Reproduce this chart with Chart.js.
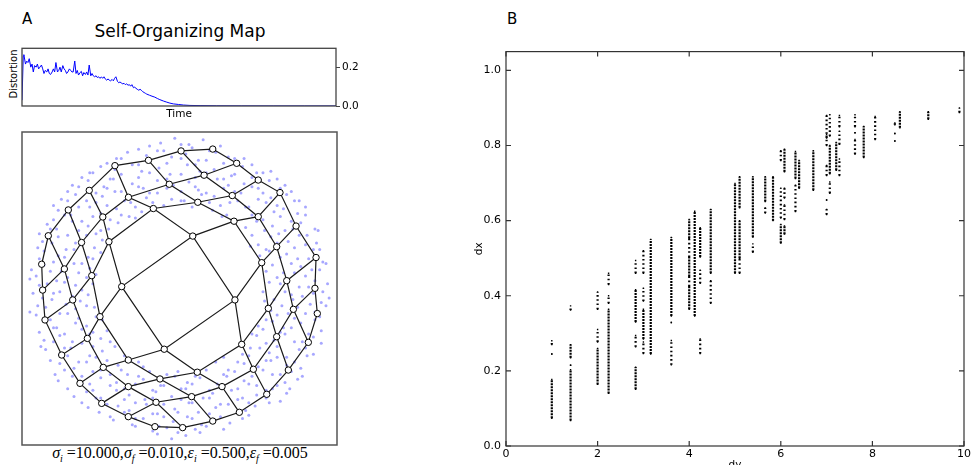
<!DOCTYPE html>
<html>
<head>
<meta charset="utf-8">
<script src="https://cdn.jsdelivr.net/npm/chart.js@4.4.0/dist/chart.umd.min.js"></script>
<style>
  body { margin: 0; width: 973px; height: 465px; overflow: hidden; position: relative; background: #fff; font-family: "DejaVu Sans", sans-serif; color: #000; }
  canvas { position: absolute; }
  .txt { position: absolute; white-space: nowrap; }
  .cap sub { font-size: 10px; }
</style>
</head>
<body>
<div class="txt" style="left:22px;top:12px;font-size:15px;line-height:15px;">A</div>
<div class="txt" style="left:507px;top:12px;font-size:15px;line-height:15px;">B</div>
<div class="txt" style="left:80px;width:200px;text-align:center;top:23px;font-size:17px;line-height:17px;">Self-Organizing Map</div>
<div class="txt" style="left:-26px;width:80px;text-align:center;top:68px;height:12px;font-size:10px;line-height:12px;transform:rotate(-90deg);">Distortion</div>
<div class="txt cap" style="left:20px;width:320px;text-align:center;top:445px;font-family:'Liberation Serif',serif;font-size:16px;line-height:16px;"><i>σ</i><sub><i>i</i></sub> =10.000,<i>σ</i><sub><i>f</i></sub> =0.010,<i>ε</i><sub><i>i</i></sub> =0.500,<i>ε</i><sub><i>f</i></sub> =0.005</div>

<canvas id="distChart" width="350" height="85" style="left:20px;top:40px;"></canvas>
<canvas id="somChart" width="335" height="323" style="left:12px;top:127px;"></canvas>
<canvas id="distanceChart" width="508" height="436" style="left:465px;top:40px;"></canvas>

<script>
// ---- panel A, distortion over time ----
const distTime = [0,0.4,0.6,1.1,1.5,1.9,2.3,2.8,3.2,3.6,
  4.0,4.5,4.9,5.3,5.7,6.2,6.6,7.0,7.4,7.9,
  8.3,8.7,9.1,9.6,10.0,10.4,10.8,11.3,11.7,12.1,
  12.5,13.0,13.4,13.8,14.2,14.6,15.1,15.5,15.9,16.3,
  16.8,17.2,17.6,18.0,18.5,18.9,19.3,19.7,20.2,20.6,
  21.0,21.4,21.9,22.3,22.7,23.1,23.6,24.0,24.4,24.8,
  25.3,25.7,26.1,26.5,27.0,27.4,27.8,28.2,28.7,29.1,
  29.5,29.9,30.4,30.8,31.2,31.6,32.1,32.5,32.9,33.3,
  33.8,34.2,34.6,35.0,35.5,35.9,36.3,36.7,37.2,37.6,
  38.0,38.4,38.9,39.3,39.7,40.6,41.4,42.3,43.1,43.9,
  45.0,46.1,47.1,48.2,49.8,51.4,53.5,56.7,62.0,70,
  80,90,100];
const distValue = [0.030,0.259,0.267,0.218,0.233,0.226,0.246,0.202,0.218,0.177,
  0.210,0.202,0.218,0.193,0.202,0.213,0.193,0.169,0.185,0.177,
  0.193,0.169,0.164,0.177,0.193,0.177,0.226,0.177,0.185,0.202,
  0.177,0.210,0.193,0.185,0.169,0.177,0.193,0.185,0.177,0.177,
  0.234,0.169,0.185,0.161,0.174,0.180,0.157,0.174,0.164,0.177,
  0.161,0.213,0.157,0.169,0.157,0.152,0.157,0.148,0.152,0.144,
  0.151,0.144,0.152,0.141,0.134,0.141,0.134,0.131,0.138,0.131,
  0.144,0.152,0.128,0.121,0.125,0.120,0.115,0.118,0.111,0.115,
  0.108,0.111,0.103,0.111,0.095,0.098,0.092,0.087,0.082,0.087,
  0.082,0.075,0.070,0.066,0.062,0.056,0.051,0.046,0.039,0.033,
  0.026,0.020,0.015,0.011,0.008,0.005,0.003,0.002,0.001,0.0005,
  0.0003,0.0002,0.0001];
const distTicks = [0, 0.2];

// ---- panel A, 8x8 map nodes (rows of the grid) ----
const somX = [
  [0.211, 0.363, 0.500, 0.638, 0.740, 0.867, 0.860, 0.875],
  [0.010, 0.156, 0.335, 0.500, 0.617, 0.681, 0.723, 0.818],
  [-0.197, -0.065, 0.116, 0.346, 0.522, 0.564, 0.617, 0.691],
  [-0.410, -0.324, -0.166, 0.084, 0.352, 0.395, 0.469, 0.554],
  [-0.573, -0.487, -0.448, -0.367, -0.097, 0.113, 0.270, 0.380],
  [-0.706, -0.622, -0.557, -0.505, -0.325, -0.124, 0.077, 0.211],
  [-0.833, -0.731, -0.678, -0.585, -0.484, -0.325, -0.149, 0.020],
  [-0.875, -0.869, -0.854, -0.748, -0.632, -0.494, -0.325, -0.156]
];
const somY = [
  [0.891, 0.800, 0.693, 0.613, 0.399, 0.198, 0.001, -0.160],
  [0.879, 0.724, 0.594, 0.459, 0.267, 0.050, -0.133, -0.344],
  [0.819, 0.666, 0.551, 0.430, 0.165, -0.127, -0.308, -0.521],
  [0.785, 0.583, 0.511, 0.335, -0.073, -0.357, -0.516, -0.676],
  [0.627, 0.457, 0.299, 0.012, -0.388, -0.535, -0.627, -0.791],
  [0.502, 0.294, 0.082, -0.180, -0.457, -0.578, -0.691, -0.847],
  [0.337, 0.125, -0.073, -0.319, -0.504, -0.627, -0.727, -0.889],
  [0.155, -0.010, -0.201, -0.425, -0.606, -0.734, -0.819, -0.883]
];

// input samples (ring)
const samplePts = [
  [-0.12,0.93],[-0.03,0.96],[0.06,0.92],[0.15,0.95],
  [-0.40,0.83],[-0.33,0.87],[-0.21,0.85],[-0.14,0.88],[-0.05,0.84],[0.04,0.86],[0.12,0.82],[0.23,0.87],[0.31,0.84],[0.41,0.83],
  [-0.57,0.74],[-0.50,0.78],[-0.41,0.76],[-0.30,0.79],[-0.24,0.75],[-0.13,0.77],[-0.06,0.73],[0.05,0.79],[0.13,0.75],[0.22,0.76],[0.33,0.72],[0.40,0.78],[0.49,0.74],[0.58,0.75],
  [-0.68,0.66],[-0.58,0.69],[-0.48,0.65],[-0.42,0.70],[-0.30,0.67],[-0.23,0.64],[-0.14,0.69],[-0.04,0.66],[0.06,0.68],[0.12,0.63],[0.24,0.70],[0.31,0.66],[0.41,0.67],[0.50,0.64],[0.57,0.69],[0.67,0.66],
  [-0.75,0.57],[-0.66,0.60],[-0.59,0.56],[-0.49,0.59],[-0.41,0.62],[-0.31,0.55],[-0.21,0.58],[-0.14,0.61],[-0.05,0.57],[0.03,0.56],[0.14,0.60],[0.22,0.59],[0.32,0.55],[0.39,0.61],[0.50,0.57],[0.58,0.58],[0.68,0.60],[0.76,0.56],
  [-0.77,0.50],[-0.69,0.47],[-0.57,0.52],[-0.50,0.48],[-0.40,0.51],[-0.32,0.46],[-0.24,0.49],[0.21,0.50],[0.30,0.47],[0.42,0.52],[0.49,0.46],[0.60,0.49],[0.66,0.51],[0.75,0.48],
  [-0.84,0.41],[-0.78,0.38],[-0.68,0.43],[-0.58,0.40],[-0.50,0.37],[-0.39,0.42],[0.42,0.39],[0.49,0.43],[0.59,0.40],[0.67,0.37],[0.77,0.42],[0.86,0.38],
  [-0.87,0.30],[-0.77,0.33],[-0.66,0.29],[-0.59,0.34],[-0.49,0.31],[0.50,0.28],[0.58,0.33],[0.69,0.30],[0.76,0.34],[0.87,0.29],
  [-0.86,0.24],[-0.77,0.21],[-0.67,0.25],[-0.58,0.20],[-0.50,0.23],[0.51,0.21],[0.57,0.24],[0.68,0.22],[0.75,0.19],[0.85,0.25],
  [-0.94,0.12],[-0.86,0.15],[-0.75,0.11],[-0.67,0.16],[-0.57,0.13],[0.59,0.15],[0.66,0.10],[0.77,0.14],[0.84,0.12],[0.93,0.16],
  [-0.95,0.06],[-0.84,0.03],[-0.78,0.05],[-0.66,0.02],[-0.59,0.07],[0.57,0.04],[0.68,0.06],[0.76,0.01],[0.86,0.05],[0.94,0.03],
  [-0.93,-0.03],[-0.87,-0.06],[-0.76,-0.02],[-0.68,-0.05],[-0.58,-0.04],[0.60,-0.07],[0.67,-0.02],[0.78,-0.05],[0.85,-0.03],[0.95,-0.06],
  [-0.95,-0.15],[-0.85,-0.12],[-0.76,-0.16],[-0.66,-0.13],[-0.59,-0.11],[0.58,-0.14],[0.69,-0.16],[0.75,-0.12],[0.86,-0.15],[0.93,-0.11],
  [-0.85,-0.21],[-0.78,-0.25],[-0.66,-0.22],[-0.59,-0.24],[-0.49,-0.20],[0.50,-0.24],[0.59,-0.21],[0.66,-0.25],[0.77,-0.22],[0.86,-0.20],
  [-0.86,-0.33],[-0.76,-0.30],[-0.68,-0.34],[-0.57,-0.29],[-0.50,-0.32],[0.49,-0.30],[0.60,-0.33],[0.67,-0.29],[0.78,-0.34],[0.85,-0.31],
  [-0.85,-0.39],[-0.76,-0.42],[-0.69,-0.38],[-0.57,-0.43],[-0.49,-0.40],[-0.41,-0.37],[0.40,-0.42],[0.51,-0.38],[0.57,-0.41],[0.68,-0.44],[0.76,-0.39],[0.85,-0.42],
  [-0.76,-0.48],[-0.67,-0.51],[-0.59,-0.47],[-0.50,-0.52],[-0.39,-0.49],[-0.31,-0.46],[-0.23,-0.50],[0.23,-0.47],[0.31,-0.52],[0.41,-0.48],[0.50,-0.50],[0.58,-0.46],[0.68,-0.49],[0.77,-0.51],
  [-0.77,-0.59],[-0.68,-0.56],[-0.57,-0.61],[-0.50,-0.57],[-0.40,-0.60],[-0.33,-0.55],[-0.23,-0.58],[-0.12,-0.62],[-0.03,-0.56],[0.05,-0.60],[0.13,-0.57],[0.24,-0.61],[0.30,-0.56],[0.41,-0.59],[0.49,-0.62],[0.59,-0.55],[0.67,-0.60],[0.75,-0.58],
  [-0.67,-0.69],[-0.59,-0.66],[-0.50,-0.70],[-0.40,-0.65],[-0.32,-0.68],[-0.22,-0.71],[-0.15,-0.66],[-0.05,-0.69],[0.04,-0.64],[0.15,-0.70],[0.21,-0.67],[0.33,-0.65],[0.40,-0.70],[0.49,-0.68],[0.59,-0.64],[0.68,-0.67],
  [-0.58,-0.76],[-0.51,-0.79],[-0.39,-0.75],[-0.32,-0.78],[-0.21,-0.74],[-0.14,-0.80],[-0.03,-0.77],[0.06,-0.73],[0.12,-0.79],[0.23,-0.76],[0.31,-0.74],[0.42,-0.78],[0.48,-0.75],[0.57,-0.73],
  [-0.42,-0.84],[-0.30,-0.87],[-0.23,-0.83],[-0.13,-0.88],[-0.04,-0.85],[0.05,-0.82],[0.14,-0.87],[0.22,-0.84],[0.32,-0.86],[0.40,-0.83],
  [-0.14,-0.93],[-0.05,-0.96],[0.04,-0.94],[0.13,-0.92],
  // second pass over the cloud
  [-0.89,0.02],[-0.80,-0.03],[-0.73,0.04],[-0.62,-0.01],[-0.55,0.03],[0.53,-0.02],[0.64,0.03],[0.71,-0.04],[0.82,0.01],[0.91,-0.02],
  [-0.91,0.08],[-0.82,0.11],[-0.71,0.07],[-0.64,0.10],[-0.53,0.09],[0.55,0.11],[0.62,0.07],[0.73,0.10],[0.80,0.08],[0.89,0.12],
  [-0.90,-0.11],[-0.81,-0.07],[-0.72,-0.10],[-0.63,-0.08],[-0.54,-0.12],[0.54,-0.08],[0.65,-0.11],[0.72,-0.07],[0.83,-0.10],[0.90,-0.09],
  [-0.89,0.19],[-0.80,0.17],[-0.73,0.20],[-0.62,0.16],[-0.55,0.19],[0.53,0.17],[0.64,0.20],[0.71,0.16],[0.82,0.19],[0.91,0.17],
  [-0.91,-0.17],[-0.82,-0.20],[-0.71,-0.16],[-0.64,-0.19],[-0.53,-0.18],[0.55,-0.20],[0.62,-0.17],[0.73,-0.19],[0.80,-0.16],[0.89,-0.18],
  [-0.90,0.26],[-0.81,0.29],[-0.72,0.25],[-0.63,0.28],[-0.54,0.26],[-0.46,0.29],[0.45,0.27],[0.55,0.25],[0.62,0.29],[0.73,0.26],[0.80,0.28],[0.89,0.25],
  [-0.89,-0.28],[-0.80,-0.25],[-0.73,-0.29],[-0.62,-0.26],[-0.55,-0.28],[-0.46,-0.27],[0.46,-0.29],[0.53,-0.26],[0.64,-0.28],[0.71,-0.25],[0.82,-0.29],[0.90,-0.27],
  [-0.89,0.35],[-0.82,0.38],[-0.71,0.34],[-0.64,0.37],[-0.53,0.35],[-0.45,0.38],[0.46,0.34],[0.54,0.37],[0.63,0.35],[0.72,0.38],[0.81,0.34],[0.88,0.37],
  [-0.88,-0.37],[-0.80,-0.34],[-0.73,-0.38],[-0.62,-0.35],[-0.55,-0.37],[-0.44,-0.34],[0.45,-0.38],[0.55,-0.35],[0.62,-0.37],[0.73,-0.34],[0.80,-0.38],[0.90,-0.35],
  [-0.80,0.44],[-0.73,0.47],[-0.62,0.43],[-0.55,0.46],[-0.44,0.44],[-0.37,0.47],[-0.28,0.45],[0.27,0.46],[0.35,0.43],[0.46,0.47],[0.53,0.44],[0.64,0.46],[0.71,0.43],[0.80,0.47],
  [-0.82,-0.46],[-0.71,-0.43],[-0.64,-0.47],[-0.53,-0.44],[-0.46,-0.46],[-0.35,-0.43],[-0.26,-0.47],[0.28,-0.44],[0.37,-0.47],[0.44,-0.43],[0.55,-0.46],[0.62,-0.44],[0.73,-0.47],[0.81,-0.43],
  [-0.80,0.53],[-0.71,0.56],[-0.64,0.52],[-0.53,0.55],[-0.46,0.53],[-0.35,0.56],[-0.28,0.52],[-0.17,0.55],[-0.10,0.53],[0.01,0.56],[0.08,0.52],[0.19,0.55],[0.26,0.53],[0.37,0.56],[0.44,0.52],[0.55,0.55],[0.62,0.53],[0.73,0.56],[0.80,0.52],
  [-0.79,-0.55],[-0.73,-0.52],[-0.62,-0.56],[-0.55,-0.53],[-0.44,-0.55],[-0.37,-0.52],[-0.26,-0.56],[-0.19,-0.53],[-0.08,-0.55],[-0.01,-0.53],[0.10,-0.56],[0.17,-0.52],[0.28,-0.55],[0.35,-0.53],[0.46,-0.56],[0.53,-0.52],[0.64,-0.55],[0.71,-0.53],[0.78,-0.56],
  [-0.71,0.62],[-0.64,0.65],[-0.53,0.61],[-0.46,0.64],[-0.37,0.62],[-0.26,0.65],[-0.19,0.61],[-0.08,0.64],[0.01,0.62],[0.10,0.65],[0.17,0.61],[0.28,0.64],[0.35,0.62],[0.46,0.65],[0.53,0.61],[0.64,0.64],[0.71,0.62],
  [-0.71,-0.64],[-0.62,-0.61],[-0.55,-0.65],[-0.44,-0.62],[-0.35,-0.64],[-0.28,-0.61],[-0.17,-0.65],[-0.10,-0.62],[0.01,-0.64],[0.08,-0.61],[0.19,-0.65],[0.26,-0.62],[0.37,-0.64],[0.44,-0.61],[0.55,-0.65],[0.62,-0.62],[0.70,-0.64],
  [-0.62,0.71],[-0.55,0.74],[-0.44,0.70],[-0.37,0.73],[-0.26,0.71],[-0.19,0.74],[-0.08,0.70],[0.01,0.73],[0.10,0.71],[0.17,0.74],[0.28,0.70],[0.35,0.73],[0.46,0.71],[0.53,0.74],[0.62,0.70],
  [-0.62,-0.73],[-0.53,-0.70],[-0.46,-0.74],[-0.35,-0.71],[-0.28,-0.73],[-0.17,-0.70],[-0.10,-0.74],[0.01,-0.71],[0.08,-0.73],[0.19,-0.70],[0.26,-0.74],[0.37,-0.71],[0.44,-0.73],[0.55,-0.70],[0.64,-0.72],
  [-0.46,0.80],[-0.37,0.83],[-0.26,0.79],[-0.19,0.82],[-0.08,0.80],[0.01,0.83],[0.10,0.79],[0.17,0.82],[0.28,0.80],[0.35,0.83],[0.46,0.79],
  [-0.44,-0.82],[-0.35,-0.79],[-0.28,-0.83],[-0.17,-0.80],[-0.10,-0.82],[-0.01,-0.79],[0.08,-0.83],[0.19,-0.80],[0.26,-0.82],[0.37,-0.79],[0.44,-0.81],
  [-0.26,0.89],[-0.19,0.91],[-0.10,0.88],[0.01,0.92],[0.08,0.90],[0.19,0.88],[0.26,0.91],
  [-0.28,-0.88],[-0.17,-0.91],[-0.08,-0.89],[-0.01,-0.92],[0.10,-0.90],[0.17,-0.88],[0.28,-0.90]
];

// ---- panel B, grid distance (dy) vs map distance (dx) ----
const gridDist = [1, 1.41, 2, 2.24, 2.83, 3, 3.16, 3.61, 4, 4.12, 4.24, 4.47, 5, 5.10, 5.39, 5.66, 5.83,
  6, 6.08, 6.32, 6.40, 6.71, 7, 7.07, 7.21, 7.28, 7.62, 7.81, 8.06, 8.49, 8.60, 9.22, 9.90];
const denseRuns = [
  [[0.074,0.177]],
  [[0.068,0.203],[0.235,0.27]],
  [[0.164,0.26]],
  [[0.14,0.364]],
  [[0.151,0.21],[0.33,0.416]],
  [[0.285,0.364]],
  [[0.245,0.55]],
  [[0.346,0.555]],
  [[0.364,0.425],[0.451,0.503],[0.553,0.603]],
  [[0.346,0.625]],
  [[0.503,0.581]],
  [[0.46,0.63]],
  [[0.46,0.699]],
  [[0.50,0.60],[0.634,0.717]],
  [[0.556,0.717]],
  [[0.651,0.717]],
  [[0.60,0.717]],
  [[0.54,0.59]],
  [[0.564,0.586],[0.73,0.79]],
  [[0.712,0.784]],
  [[0.686,0.76]],
  [[0.681,0.786]],
  [],
  [[0.725,0.80]],
  [[0.734,0.808]],
  [],
  [],
  [[0.768,0.851]],
  [],
  [],
  [[0.847,0.89]],
  [[0.87,0.89]],
  []
];
const sparseRuns = [
  [[0.245,0.245],[0.27,0.28]],
  [[0.215,0.215],[0.362,0.373]],
  [[0.277,0.31],[0.364,0.41]],
  [[0.38,0.40],[0.43,0.46]],
  [[0.264,0.294],[0.46,0.494]],
  [[0.246,0.277],[0.386,0.42],[0.46,0.52]],
  [],
  [[0.216,0.281],[0.329,0.329]],
  [[0.425,0.451],[0.503,0.553]],
  [],
  [[0.246,0.285],[0.433,0.468]],
  [[0.38,0.44]],
  [],
  [[0.46,0.50]],
  [[0.516,0.538]],
  [[0.62,0.634]],
  [],
  [[0.607,0.686],[0.76,0.786]],
  [[0.603,0.642],[0.66,0.686]],
  [[0.624,0.694]],
  [],
  [],
  [[0.616,0.63],[0.655,0.655],[0.72,0.747],[0.80,0.83],[0.82,0.88]],
  [[0.673,0.703],[0.825,0.882]],
  [],
  [[0.72,0.764],[0.803,0.838],[0.85,0.88]],
  [[0.777,0.816],[0.834,0.834],[0.85,0.882]],
  [],
  [[0.816,0.877]],
  [[0.812,0.812],[0.832,0.832],[0.855,0.86]],
  [],
  [],
  [[0.888,0.9]]
];
const dxTicks = [0, 0.2, 0.4, 0.6, 0.8, 1.0];
const dyTicks = [0, 2, 4, 6, 8, 10];

// frame around the plot area, optional inward ticks like matplotlib
const framePlugin = {
  id: 'frame',
  afterDatasetsDraw(chart, args, opts) {
    const { ctx, chartArea: a } = chart;
    ctx.save();
    ctx.strokeStyle = opts.color || '#333';
    ctx.lineWidth = opts.width || 1;
    ctx.strokeRect(a.left, a.top, a.right - a.left, a.bottom - a.top);
    if (opts.ticksIn) {
      const len = 5;
      ctx.beginPath();
      chart.scales.x.ticks.forEach(t => {
        const p = chart.scales.x.getPixelForValue(t.value);
        ctx.moveTo(p, a.bottom); ctx.lineTo(p, a.bottom - len);
        ctx.moveTo(p, a.top); ctx.lineTo(p, a.top + len);
      });
      chart.scales.y.ticks.forEach(t => {
        const p = chart.scales.y.getPixelForValue(t.value);
        ctx.moveTo(a.left, p); ctx.lineTo(a.left + len, p);
        ctx.moveTo(a.right, p); ctx.lineTo(a.right - len, p);
      });
      ctx.stroke();
    }
    ctx.restore();
  }
};

const fontFamily = '"DejaVu Sans", sans-serif';

// distortion chart
new Chart(document.getElementById('distChart'), {
  type: 'scatter',
  data: {
    datasets: [{
      data: distTime.map((t, i) => ({ x: t, y: distValue[i] })),
      showLine: true,
      borderColor: '#0000ff',
      borderWidth: 1,
      pointRadius: 0
    }]
  },
  options: {
    responsive: false,
    animation: false,
    layout: { padding: { left: 2, top: 4, right: 0, bottom: 0 } },
    plugins: { legend: { display: false }, tooltip: { enabled: false }, frame: { color: '#444', width: 1.3 } },
    scales: {
      x: {
        type: 'linear', min: 0, max: 100,
        grid: { display: false, drawTicks: false }, border: { display: false },
        ticks: { display: false },
        title: { display: true, text: 'Time', color: '#000', font: { family: fontFamily, size: 10.5 } },
        afterFit: s => { s.height = 19; }
      },
      y: {
        position: 'right', min: 0, max: 0.3,
        afterBuildTicks: s => { s.ticks = distTicks.map(v => ({ value: v })); },
        grid: { drawOnChartArea: false, drawTicks: true, tickLength: 4, tickColor: '#444' },
        border: { display: false },
        ticks: { color: '#000', padding: 2, font: { family: fontFamily, size: 10.5 }, callback: v => v.toFixed(1) },
        afterFit: s => { s.width = 34; }
      }
    }
  },
  plugins: [framePlugin]
});

// map chart
const somLines = [];
for (let r = 0; r < 8; r++) somLines.push(somX[r].map((x, c) => ({ x: x, y: somY[r][c] })));
for (let c = 0; c < 8; c++) somLines.push(somX.map((row, r) => ({ x: row[c], y: somY[r][c] })));
const somNodes = [];
somX.forEach((row, r) => row.forEach((x, c) => somNodes.push({ x: x, y: somY[r][c] })));

new Chart(document.getElementById('somChart'), {
  type: 'scatter',
  data: {
    datasets: [
      {
        data: somNodes, order: 0,
        pointRadius: 3.2, pointBackgroundColor: '#fff', pointBorderColor: '#000', pointBorderWidth: 1
      },
      ...somLines.map(line => ({
        data: line, order: 1, showLine: true,
        borderColor: '#1a1a1a', borderWidth: 1.2, pointRadius: 0
      })),
      {
        data: samplePts.map(p => ({ x: p[0], y: p[1] })), order: 2,
        pointRadius: 1.5, pointBackgroundColor: 'rgba(80,80,255,0.5)', pointBorderWidth: 0
      }
    ]
  },
  options: {
    responsive: false,
    animation: false,
    layout: { padding: { left: 10, right: 10, top: 5, bottom: 5 } },
    plugins: { legend: { display: false }, tooltip: { enabled: false }, frame: { color: '#555', width: 1.5 } },
    scales: {
      x: { type: 'linear', min: -1, max: 1, display: false },
      y: { type: 'linear', min: -1, max: 1, display: false }
    }
  },
  plugins: [framePlugin]
});

// distance chart
function runsToPoints(runs) {
  const pts = [];
  gridDist.forEach((d, i) => {
    runs[i].forEach(r => {
      pts.push({ x: d, y: r[0] }, { x: d, y: r[1] }, { x: d, y: null });
    });
  });
  return pts;
}

new Chart(document.getElementById('distanceChart'), {
  type: 'scatter',
  data: {
    datasets: [
      {
        data: runsToPoints(denseRuns), showLine: true, spanGaps: false,
        borderColor: '#000', borderWidth: 2.2, borderDash: [2, 1],
        pointRadius: 1, pointStyle: 'rect', pointBackgroundColor: '#000', pointBorderWidth: 0
      },
      {
        data: runsToPoints(sparseRuns), showLine: true, spanGaps: false,
        borderColor: '#000', borderWidth: 2.2, borderDash: [1.6, 2.6],
        pointRadius: 1, pointStyle: 'rect', pointBackgroundColor: '#000', pointBorderWidth: 0
      }
    ]
  },
  options: {
    responsive: false,
    animation: false,
    layout: { padding: { left: 0, top: 4, right: 6, bottom: 0 } },
    plugins: { legend: { display: false }, tooltip: { enabled: false }, frame: { color: '#333', width: 1.2, ticksIn: true } },
    scales: {
      x: {
        type: 'linear', min: 0, max: 10,
        afterBuildTicks: s => { s.ticks = dyTicks.map(v => ({ value: v })); },
        grid: { display: false, drawTicks: false, tickLength: 0 }, border: { display: false },
        ticks: { color: '#000', padding: 2, maxRotation: 0, font: { family: fontFamily, size: 11 } },
        title: { display: true, text: 'dy', color: '#000', font: { family: fontFamily, size: 10.5 } },
        afterFit: s => { s.height = 30; }
      },
      y: {
        min: 0, max: 1.05,
        afterBuildTicks: s => { s.ticks = dxTicks.map(v => ({ value: v })); },
        grid: { display: false, drawTicks: false, tickLength: 0 }, border: { display: false },
        ticks: { color: '#000', padding: 5, font: { family: fontFamily, size: 11 }, callback: v => v.toFixed(1) },
        title: { display: true, text: 'dx', color: '#000', padding: { top: 8, bottom: 0 }, font: { family: fontFamily, size: 10.5 } },
        afterFit: s => { s.width = 41; }
      }
    }
  },
  plugins: [framePlugin]
});
</script>
</body>
</html>
